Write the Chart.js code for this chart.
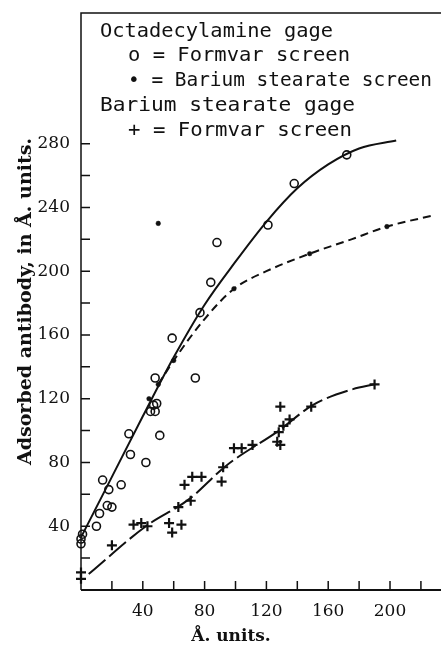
<!DOCTYPE html>
<html>
<head>
<meta charset="utf-8">
<script src="https://cdn.jsdelivr.net/npm/chart.js@4.4.0/dist/chart.umd.min.js"></script>
<style>
  html, body { margin: 0; padding: 0; background: #fff; }
  #wrap { width: 441px; height: 651px; }
</style>
</head>
<body>
<div id="wrap"><canvas id="myChart" width="441" height="651"></canvas></div>
<script>
// Octadecylamine gage, Formvar screen (open circles)
var formvarX = [0, 0, 1, 10, 12, 14, 17, 20, 18, 26, 31, 32, 42, 51, 45, 48, 47, 49, 48, 59, 74, 77, 84, 88, 121, 138, 172];
var formvarY = [29, 32, 35, 40, 48, 69, 53, 52, 63, 66, 98, 85, 80, 97, 112, 112, 116, 117, 133, 158, 133, 174, 193, 218, 229, 255, 273];
// Octadecylamine gage, barium stearate screen (solid dots)
var bariumX = [44, 50, 60, 50, 99, 148, 198];
var bariumY = [120, 129, 144, 230, 189, 211, 228];
// Barium stearate gage, Formvar screen (crosses)
var crossX = [0, 0, 20, 34, 39, 43, 57, 59, 65, 63, 67, 71, 72, 78, 91, 92, 99, 104, 111, 127, 129, 128, 131, 135, 129, 149, 190];
var crossY = [11, 7, 28, 41, 42, 40, 42, 36, 41, 52, 66, 56, 71, 71, 68, 77, 89, 89, 91, 93, 91, 99, 103, 107, 115, 115, 129];

// drawn curves
var formvarLineX = [0, 20, 40, 60, 80, 100, 120, 140, 160, 180, 204];
var formvarLineY = [33, 71, 109, 146, 179, 206, 231, 252, 267, 277, 282];
var bariumLineX = [50, 60, 80, 99, 120, 148, 175, 198, 228];
var bariumLineY = [129, 144, 170, 189, 200, 211, 220, 228, 235];
var crossLineX = [5, 42, 70, 94, 128, 150, 176, 190];
var crossLineY = [10, 40, 57, 78, 100, 116, 126, 129];

var xTickLabels = [40, 80, 120, 160, 200];
var yTickLabels = [40, 80, 120, 160, 200, 240, 280];

function pts(xs, ys) {
  return xs.map(function (x, i) { return { x: x, y: ys[i] }; });
}

var ink = '#111';

var paperBits = {
  id: 'paperBits',
  afterDraw: function (chart) {
    var ctx = chart.ctx, a = chart.chartArea;
    var xs = chart.scales.x, ys = chart.scales.y;
    ctx.save();
    ctx.strokeStyle = ink;

    // axes + top frame
    ctx.lineWidth = 2;
    ctx.beginPath();
    ctx.moveTo(a.left, a.bottom);
    ctx.lineTo(a.right, a.bottom);
    ctx.stroke();
    ctx.lineWidth = 1.5;
    ctx.beginPath();
    ctx.moveTo(a.left, a.bottom);
    ctx.lineTo(a.left, a.top);
    ctx.lineTo(a.right, a.top);
    ctx.stroke();

    // inward ticks every 20
    ctx.beginPath();
    for (var v = 20; v <= 220; v += 20) {
      var px = xs.getPixelForValue(v);
      ctx.moveTo(px, a.bottom);
      ctx.lineTo(px, a.bottom - 9);
    }
    for (var w = 20; w <= 280; w += 20) {
      var py = ys.getPixelForValue(w);
      ctx.moveTo(a.left, py);
      ctx.lineTo(a.left + 9, py);
    }
    ctx.stroke();

    ctx.fillStyle = ink;
    ctx.textBaseline = 'middle';
    ctx.textAlign = 'center';

    // x tick labels
    ctx.font = '17px "DejaVu Serif"';
    xTickLabels.forEach(function (t) {
      ctx.fillText(String(t), xs.getPixelForValue(t), a.bottom + 22);
    });

    // x axis title (sits left of centre in the original)
    ctx.font = 'bold 17px "DejaVu Serif"';
    ctx.fillText('Å. units.', 231, 637);

    // legend block
    ctx.font = '20px "DejaVu Sans Mono"';
    ctx.textAlign = 'left';
    var lines = [
      ['Octadecylamine gage', 100, 32, 333],
      ['o = Formvar screen', 128, 56, 350],
      ['\u2022 = Barium stearate screen', 128, 81, 432],
      ['Barium stearate gage', 100, 106, 355],
      ['+ = Formvar screen', 128, 131, 352]
    ];
    lines.forEach(function (l) {
      var m = ctx.measureText(l[0]).width;
      ctx.save();
      ctx.translate(l[1], l[2]);
      ctx.scale((l[3] - l[1]) / m, 1);
      ctx.fillText(l[0], 0, 0);
      ctx.restore();
    });
    ctx.restore();
  }
};

new Chart(document.getElementById('myChart'), {
  type: 'scatter',
  data: {
    datasets: [
      {
        label: 'Formvar screen',
        data: pts(formvarX, formvarY),
        pointStyle: 'circle',
        pointRadius: 4,
        borderColor: ink,
        backgroundColor: 'rgba(255,255,255,0)',
        borderWidth: 1.6,
        clip: false
      },
      {
        label: 'Barium stearate screen',
        data: pts(bariumX, bariumY),
        pointStyle: 'circle',
        pointRadius: 2.3,
        borderColor: ink,
        backgroundColor: ink,
        borderWidth: 0.5,
        clip: false
      },
      {
        label: 'Barium stearate gage, Formvar screen',
        data: pts(crossX, crossY),
        pointStyle: 'cross',
        pointRadius: 5,
        borderColor: ink,
        borderWidth: 2.2,
        clip: false
      },
      {
        label: 'formvar curve',
        data: pts(formvarLineX, formvarLineY),
        showLine: true,
        pointRadius: 0,
        borderColor: ink,
        borderWidth: 2,
        cubicInterpolationMode: 'monotone',
        clip: false
      },
      {
        label: 'barium curve',
        data: pts(bariumLineX, bariumLineY),
        showLine: true,
        pointRadius: 0,
        borderColor: ink,
        borderWidth: 2,
        borderDash: [8, 5],
        cubicInterpolationMode: 'monotone',
        clip: false
      },
      {
        label: 'cross curve',
        data: pts(crossLineX, crossLineY),
        showLine: true,
        pointRadius: 0,
        borderColor: ink,
        borderWidth: 2,
        borderDash: [22, 5],
        cubicInterpolationMode: 'monotone',
        clip: false
      }
    ]
  },
  options: {
    responsive: false,
    animation: false,
    layout: { autoPadding: false, padding: { top: 13, right: 0, left: 0, bottom: 0 } },
    plugins: { legend: { display: false }, tooltip: { enabled: false } },
    scales: {
      x: {
        type: 'linear',
        min: 0,
        max: 233,
        afterFit: function (s) {
          s.height = 61;
          s.paddingLeft = 0; s.paddingRight = 0;
        },
        grid: { display: false, drawTicks: false },
        border: { display: false },
        ticks: { display: false, stepSize: 20 }
      },
      y: {
        type: 'linear',
        min: 0,
        max: 362,
        afterFit: function (s) {
          s.width = 81;
          s.paddingTop = 0; s.paddingBottom = 0;
        },
        grid: { display: false, drawTicks: false },
        border: { display: false },
        ticks: {
          stepSize: 20,
          autoSkip: false,
          padding: 11,
          color: ink,
          font: { family: '"DejaVu Serif"', size: 17 },
          callback: function (v) { return yTickLabels.indexOf(v) >= 0 ? String(v) : ''; }
        },
        title: {
          display: true,
          text: 'Adsorbed antibody, in Å. units.',
          color: ink,
          font: { family: '"DejaVu Serif"', size: 19, weight: 'bold' },
          padding: { top: 15, bottom: 0 }
        }
      }
    }
  },
  plugins: [paperBits]
});
</script>
</body>
</html>
